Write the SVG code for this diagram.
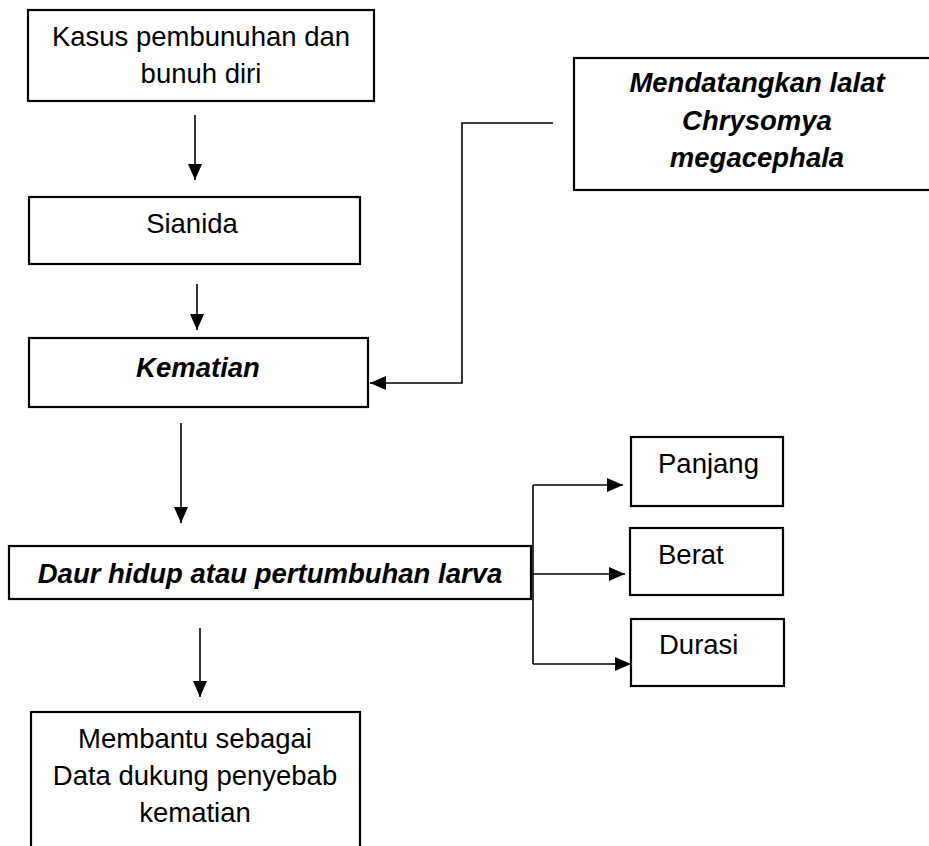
<svg xmlns="http://www.w3.org/2000/svg" width="929" height="846" viewBox="0 0 929 846">
<style>
.box{fill:#fff;stroke:#000;stroke-width:2.2}
.t{font-family:"Liberation Sans",Arial,sans-serif;font-size:27.5px;fill:#000}
.c{text-anchor:middle}
.bi{font-weight:bold;font-style:italic}
.ln{fill:none;stroke:#000;stroke-width:1.6}
</style>
<defs>
<marker id="ah" markerUnits="userSpaceOnUse" markerWidth="16" markerHeight="14" viewBox="0 0 16 14" refX="16" refY="7" orient="auto">
<path d="M0,0 L16,7 L0,14 Z" fill="#000"/>
</marker>
</defs>
<rect width="929" height="846" fill="#fff"/>
<g id="connectors">
<line class="ln" x1="195" y1="115" x2="195" y2="180" marker-end="url(#ah)"/>
<line class="ln" x1="197" y1="284" x2="197" y2="330" marker-end="url(#ah)"/>
<line class="ln" x1="181" y1="423" x2="181" y2="523" marker-end="url(#ah)"/>
<line class="ln" x1="200" y1="628" x2="200" y2="697" marker-end="url(#ah)"/>
<polyline class="ln" points="553,123 462,123 462,383 370,383" marker-end="url(#ah)"/>
<line class="ln" x1="533" y1="485" x2="533" y2="664"/>
<line class="ln" x1="533" y1="485" x2="623" y2="485" marker-end="url(#ah)"/>
<line class="ln" x1="531" y1="574" x2="625" y2="574" marker-end="url(#ah)"/>
<line class="ln" x1="533" y1="664" x2="631" y2="664" marker-end="url(#ah)"/>
</g>
<g id="n1">
<rect class="box" x="28" y="10" width="346" height="91"/>
<text class="t c" x="201" y="46">Kasus pembunuhan dan</text>
<text class="t c" x="201" y="83">bunuh diri</text>
</g>
<g id="n2">
<rect class="box" x="29" y="197" width="331" height="67"/>
<text class="t c" x="192" y="233">Sianida</text>
</g>
<g id="n3">
<rect class="box" x="29" y="338" width="339" height="69"/>
<text class="t c bi" x="198" y="377">Kematian</text>
</g>
<g id="n4">
<rect class="box" x="574" y="58" width="371" height="132"/>
<text class="t c bi" x="757" y="92">Mendatangkan lalat</text>
<text class="t c bi" x="757" y="130">Chrysomya</text>
<text class="t c bi" x="757" y="167">megacephala</text>
</g>
<g id="n5">
<rect class="box" x="9" y="546" width="522" height="53"/>
<text class="t c bi" x="270" y="583">Daur hidup atau pertumbuhan larva</text>
</g>
<g id="n6">
<rect class="box" x="631" y="437" width="152" height="69"/>
<text class="t" x="658" y="473">Panjang</text>
</g>
<g id="n7">
<rect class="box" x="630" y="528" width="153" height="67"/>
<text class="t" x="658" y="564">Berat</text>
</g>
<g id="n8">
<rect class="box" x="631" y="619" width="153" height="67"/>
<text class="t" x="659" y="654">Durasi</text>
</g>
<g id="n9">
<rect class="box" x="31" y="712" width="329" height="150"/>
<text class="t c" x="195" y="748">Membantu sebagai</text>
<text class="t c" x="195" y="785">Data dukung penyebab</text>
<text class="t c" x="195" y="822">kematian</text>
</g>
</svg>
